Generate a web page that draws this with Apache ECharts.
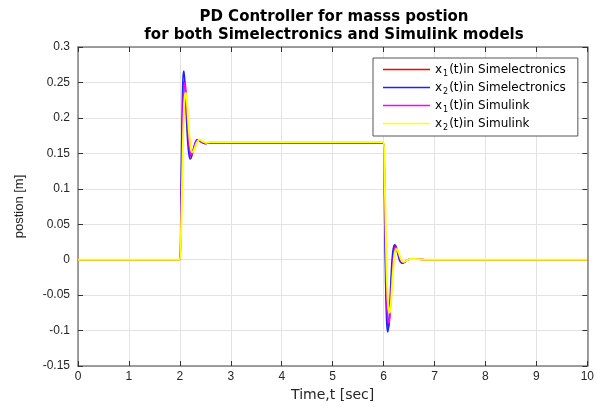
<!DOCTYPE html>
<html>
<head>
<meta charset="utf-8">
<script src="https://cdn.jsdelivr.net/npm/echarts@6/dist/echarts.min.js"></script>
<style>
  html, body { margin: 0; padding: 0; background: #fff; }
  #main { width: 597px; height: 407px; }
</style>
</head>
<body>
<div id="main"></div>
<script>
// time samples (sec), shared by all four traces
var timeSec = [0, 2.00, 2.02, 2.04, 2.06, 2.08, 2.10, 2.12, 2.14, 2.16, 2.18, 2.20, 2.22, 2.24, 2.26, 2.28, 2.30, 2.32, 2.34, 2.36, 2.38, 2.40, 2.44, 2.48, 2.52, 2.60, 2.80,
  6.00, 6.02, 6.04, 6.06, 6.08, 6.10, 6.12, 6.14, 6.16, 6.18, 6.20, 6.22, 6.24, 6.26, 6.28, 6.30, 6.32, 6.34, 6.36, 6.38, 6.40, 6.44, 6.48, 6.52, 6.60, 6.80, 10];

var x1Simelec = [0, 0, 0.06, 0.15, 0.225, 0.252, 0.250, 0.228, 0.198, 0.172, 0.156, 0.148, 0.146, 0.149, 0.154, 0.159, 0.164, 0.167, 0.169, 0.169, 0.168, 0.167, 0.165, 0.164, 0.164, 0.165, 0.165,
  0.165, 0.09, 0.0, -0.065, -0.092, -0.095, -0.080, -0.052, -0.022, 0.002, 0.015, 0.020, 0.019, 0.015, 0.010, 0.004, 0.0, -0.003, -0.004, -0.004, -0.004, -0.002, 0, 0.001, 0.001, 0, 0];

var x2Simelec = [0, 0, 0.09, 0.19, 0.255, 0.266, 0.248, 0.215, 0.183, 0.160, 0.147, 0.142, 0.143, 0.148, 0.154, 0.160, 0.165, 0.168, 0.169, 0.169, 0.168, 0.167, 0.165, 0.164, 0.164, 0.165, 0.165,
  0.165, 0.06, -0.035, -0.088, -0.102, -0.094, -0.068, -0.035, -0.006, 0.011, 0.019, 0.021, 0.019, 0.014, 0.008, 0.002, -0.002, -0.004, -0.005, -0.005, -0.004, -0.002, 0, 0.001, 0.001, 0, 0];

var x1Simulink = [0, 0, 0.05, 0.13, 0.21, 0.245, 0.250, 0.235, 0.210, 0.183, 0.163, 0.152, 0.148, 0.149, 0.153, 0.158, 0.163, 0.166, 0.168, 0.169, 0.169, 0.168, 0.166, 0.165, 0.164, 0.165, 0.165,
  0.165, 0.10, 0.02, -0.05, -0.083, -0.090, -0.082, -0.060, -0.032, -0.008, 0.008, 0.016, 0.018, 0.016, 0.012, 0.007, 0.002, -0.001, -0.003, -0.004, -0.004, -0.002, 0, 0.001, 0.001, 0, 0];

var x2Simulink = [0, 0, 0.03, 0.09, 0.16, 0.21, 0.232, 0.235, 0.222, 0.200, 0.180, 0.165, 0.156, 0.152, 0.152, 0.155, 0.159, 0.163, 0.166, 0.168, 0.169, 0.169, 0.167, 0.166, 0.165, 0.166, 0.166,
  0.166, 0.12, 0.05, -0.015, -0.055, -0.072, -0.075, -0.065, -0.045, -0.022, -0.003, 0.009, 0.014, 0.015, 0.013, 0.009, 0.005, 0.001, -0.002, -0.003, -0.003, -0.002, 0, 0.001, 0.001, 0, 0];

var seriesNames = ['x1(t)in Simelectronics', 'x2(t)in Simelectronics', 'x1(t)in Simulink', 'x2(t)in Simulink'];
var seriesColors = ['#ff0000', '#2020ff', '#ff00ff', '#ffff00'];
var seriesWidths = [1.5, 1.5, 1.5, 2];
var seriesValues = [x1Simelec, x2Simelec, x1Simulink, x2Simulink];

var chart = echarts.init(document.getElementById('main'));

function pairs(vals) {
  return timeSec.map(function (t, i) { return [t, vals[i]]; });
}

var font = 'Liberation Sans, Arial, sans-serif';
var wideFont = 'DejaVu Sans, sans-serif';
var axisGray = '#808080';

var series = [];
for (var i = 0; i < seriesNames.length; i++) {
  series.push({
    name: seriesNames[i],
    type: 'line',
    data: pairs(seriesValues[i]),
    symbol: 'none',
    smooth: 0.3,
    lineStyle: { color: seriesColors[i], width: seriesWidths[i] },
    itemStyle: { color: seriesColors[i] },
    z: 2 + i
  });
}

var option = {
  animation: false,
  backgroundColor: '#fff',
  graphic: [{
    type: 'text',
    x: 334,
    y: 8,
    style: {
      text: 'PD Controller for masss postion\nfor both Simelectronics and Simulink models',
      fontFamily: wideFont,
      fontSize: 15,
      fontWeight: 'bold',
      lineHeight: 18,
      fill: '#000',
      align: 'center',
      verticalAlign: 'top'
    }
  }],
  grid: { left: 78, right: 7, top: 47, bottom: 39 },
  legend: {
    orient: 'vertical',
    left: 373,
    top: 58,
    padding: [3, 12, 4, 10],
    itemGap: 1,
    itemWidth: 47,
    itemHeight: 1.5,
    icon: 'rect',
    backgroundColor: '#fff',
    borderColor: '#555',
    borderWidth: 1,
    borderRadius: 0,
    data: seriesNames,
    textStyle: {
      fontFamily: wideFont,
      fontSize: 12,
      lineHeight: 14,
      color: '#000',
      rich: {
        sub: { fontFamily: wideFont, fontSize: 8, lineHeight: 14, padding: [9, 1, 0, 1] }
      }
    },
    formatter: function (name) {
      return name.replace(/^x(\d)/, 'x{sub|$1}');
    }
  },
  xAxis: [{
    type: 'value',
    min: 0, max: 10, interval: 1,
    name: 'Time,t [sec]',
    nameLocation: 'middle',
    nameGap: 22,
    nameTextStyle: { fontFamily: wideFont, fontSize: 14, color: '#262626' },
    axisLine: { onZero: false, lineStyle: { color: axisGray, width: 1.5 } },
    axisTick: { inside: true, length: 5, lineStyle: { color: '#333' } },
    axisLabel: { fontFamily: font, fontSize: 12, color: '#262626', margin: 5 },
    splitLine: { show: true, lineStyle: { color: '#e3e3e3', width: 1 } }
  }, {
    type: 'value',
    position: 'top',
    min: 0, max: 10, interval: 1,
    axisLine: { show: true, onZero: false, lineStyle: { color: axisGray, width: 1.5 } },
    axisTick: { show: true, inside: true, length: 5, lineStyle: { color: '#333' } },
    axisLabel: { show: false },
    splitLine: { show: false }
  }],
  yAxis: [{
    type: 'value',
    min: -0.15, max: 0.3, interval: 0.05,
    name: 'postion [m]',
    nameLocation: 'middle',
    nameGap: 52,
    nameTextStyle: { fontFamily: font, fontSize: 13, color: '#262626' },
    axisLine: { show: true, onZero: false, lineStyle: { color: axisGray, width: 1.5 } },
    axisTick: { show: true, inside: true, length: 5, lineStyle: { color: '#333' } },
    axisLabel: {
      fontFamily: font, fontSize: 12, color: '#262626', margin: 8,
      formatter: function (v) { return String(+v.toFixed(2)); }
    },
    splitLine: { show: true, lineStyle: { color: '#e3e3e3', width: 1 } }
  }, {
    type: 'value',
    position: 'right',
    min: -0.15, max: 0.3, interval: 0.05,
    axisLine: { show: true, onZero: false, lineStyle: { color: axisGray, width: 1.5 } },
    axisTick: { show: true, inside: true, length: 5, lineStyle: { color: '#333' } },
    axisLabel: { show: false },
    splitLine: { show: false }
  }],
  series: series
};

chart.setOption(option);
</script>
</body>
</html>
